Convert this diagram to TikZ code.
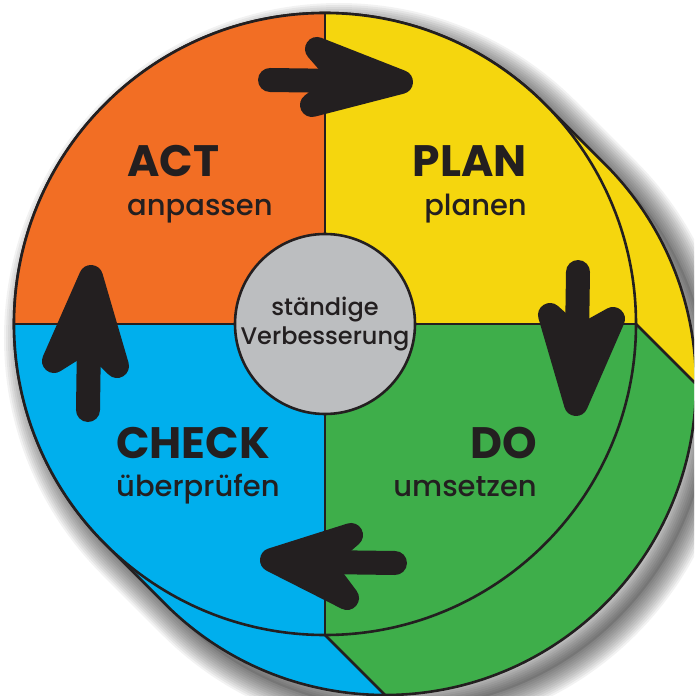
\documentclass[tikz,border=0pt]{standalone}
\usepackage{fontspec}
\setmainfont{Poppins}
\newfontfamily\medfont{Poppins}[UprightFont={* Medium}]

\definecolor{ink}{RGB}{35,31,32}
\definecolor{actorange}{RGB}{242,110,36}
\definecolor{planyellow}{RGB}{245,214,14}
\definecolor{dogreen}{RGB}{62,174,74}
\definecolor{checkblue}{RGB}{0,175,237}
\definecolor{centergray}{RGB}{188,190,192}

% 前后两个圆盘的外轮廓（后盘向右下错开）
\newcommand{\pdcahull}{(45:311) arc[start angle=45, end angle=225, radius=311]
  -- ++(60,-60) arc[start angle=225, end angle=405, radius=311] -- cycle}

\begin{document}
\begin{tikzpicture}[x=1pt, y=1pt,
    outline/.style={draw=ink, line width=2.6},
    arrowpart/.style={draw=ink, fill=ink, line width=24, line cap=round, line join=round},
    title/.style={font=\bfseries\fontsize{44}{44}\selectfont, text=ink, inner sep=0pt},
    subtitle/.style={font=\medfont\fontsize{29}{29}\selectfont, text=ink, inner sep=0pt}]
    \useasboundingbox (-325,-372) rectangle (369,324);
    \fill[white] (-325,-372) rectangle (369,324);
    \clip (-325,-372) rectangle (369,324);

    % 阴影（向右下偏移）
    \fill[black, opacity=0.1, shift={(14,-14)}] \pdcahull;
    \foreach \w in {4,8,...,48}
        \draw[line width=\w, black, opacity=0.05, shift={(14,-14)}] \pdcahull;

    % 后盘
    \begin{scope}
        \clip \pdcahull;
        \fill[dogreen] (-400,-400) rectangle (500,400);
        \fill[planyellow] (311,0) -- (1000,-689) -- (1000,1000) -- (-689,1000) -- cycle;
        \fill[checkblue] (0,-311) -- (-1000,689) -- (-1000,-1000) -- (689,-1000) -- cycle;
    \end{scope}
    \draw[outline] (311,0) -- ++(60,-60);
    \draw[outline] (0,-311) -- ++(60,-60);
    \draw[outline] \pdcahull;

    % 前盘的四个象限
    \foreach \a/\c in {0/planyellow, 90/actorange, 180/checkblue, 270/dogreen}
        \fill[\c] (0,0) -- (\a:311) arc[start angle=\a, end angle=\a+90, radius=311] -- cycle;
    \draw[outline] (-311,0) -- (311,0);
    \draw[outline] (0,-311) -- (0,311);
    \draw[outline] (0,0) circle[radius=311];

    % 中心圆
    \node[circle, fill=centergray, draw=ink, line width=2.6, minimum size=180, inner sep=0pt,
          align=center, text=ink, font=\medfont\fontsize{24}{29}\selectfont] (kern) at (0,0)
        {ständige\\Verbesserung};

    % 各象限文字
    \node[title, anchor=base west] (act) at (-198,147) {ACT};
    \node[subtitle, anchor=base west] (actsub) at (-198,108) {anpassen};
    \node[title, anchor=base east] (plan) at (202,147) {PLAN};
    \node[subtitle, anchor=base east] (plansub) at (202,108) {planen};
    \node[title, anchor=base west] (check) at (-209,-134) {CHECK};
    \node[subtitle, anchor=base west] (checksub) at (-209,-172) {überprüfen};
    \node[title, anchor=base east] (do) at (212,-134) {DO};
    \node[subtitle, anchor=base east] (dosub) at (212,-172) {umsetzen};

    % 箭头：ACT -> PLAN
    \coordinate (a1s) at (-55,244);
    \coordinate (a1n) at (20,243);
    \coordinate (a1t) at (76,242);
    \coordinate (a1l) at (-8,275);
    \coordinate (a1r) at (-13,219);
    \draw[arrowpart] (a1s) -- (a1n);
    \filldraw[arrowpart] (a1l) -- (a1t) -- (a1r) -- (a1n) -- cycle;

    % 箭头：PLAN -> DO
    \coordinate (a2s) at (253,52);
    \coordinate (a2n) at (252,-15);
    \coordinate (a2t) at (251,-80);
    \coordinate (a2l) at (225,9);
    \coordinate (a2r) at (288,5);
    \draw[arrowpart] (a2s) -- (a2n);
    \filldraw[arrowpart] (a2l) -- (a2t) -- (a2r) -- (a2n) -- cycle;

    % 箭头：DO -> CHECK
    \coordinate (a3s) at (70,-239);
    \coordinate (a3n) at (-5,-238);
    \coordinate (a3t) at (-53,-236);
    \coordinate (a3l) at (26,-211);
    \coordinate (a3r) at (22,-274);
    \draw[arrowpart] (a3s) -- (a3n);
    \filldraw[arrowpart] (a3l) -- (a3t) -- (a3r) -- (a3n) -- cycle;

    % 箭头：CHECK -> ACT
    \coordinate (a4s) at (-237,-86);
    \coordinate (a4n) at (-236,-15);
    \coordinate (a4t) at (-234,47);
    \coordinate (a4l) at (-271,-37);
    \coordinate (a4r) at (-208,-42);
    \draw[arrowpart] (a4s) -- (a4n);
    \filldraw[arrowpart] (a4l) -- (a4t) -- (a4r) -- (a4n) -- cycle;
\end{tikzpicture}
\end{document}
